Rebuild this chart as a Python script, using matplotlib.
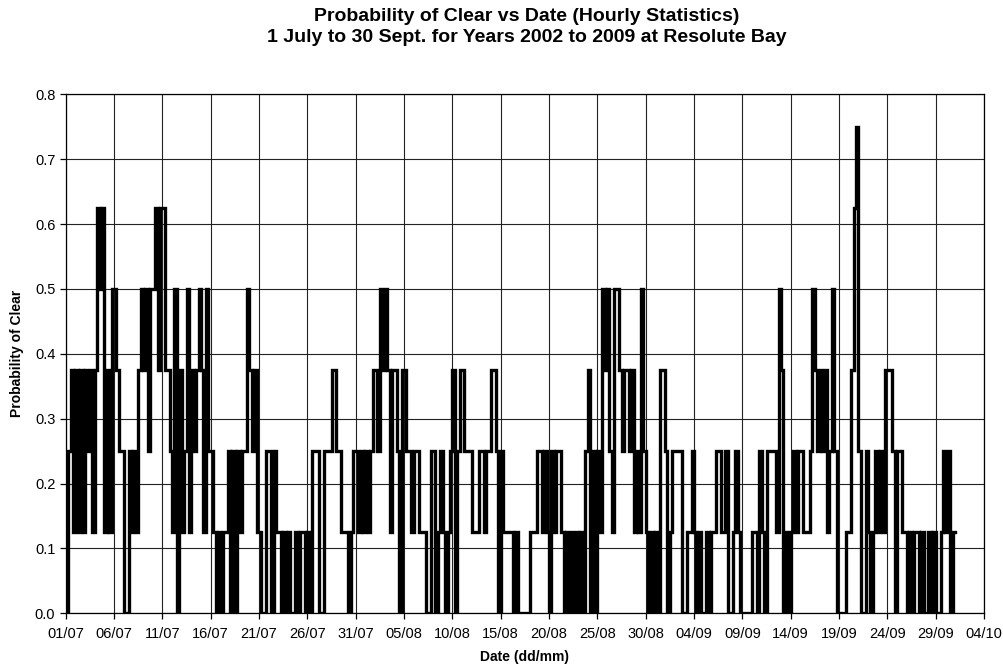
import datetime as dt
import numpy as np
import matplotlib
matplotlib.use("Agg")
import matplotlib.pyplot as plt

# Probability of clear, in eighths (8 years of data), 4 readings per day (6-hour steps)
july_eighths = [
    0,2,3,1, 3,1,3,1, 3,2,3,1, 3,5,4,5, 1,3,1,4, 4,3,2,2, 0,0,2,1, 2,1,3,4,
    3,4,2,4, 4,5,3,5, 5,3,3,2, 1,4,0,3, 1,2,4,1, 3,2,3,4, 3,1,4,2, 2,1,0,1,
    0,1,1,2, 0,2,0,2, 1,2,2,4, 3,2,3,1, 1,0,0,2, 2,0,2,1, 1,0,1,0, 1,0,0,1,
    0,1,1,0, 1,0,2,2, 2,0,0,2, 2,2,3,3, 2,2,1,1, 1,0,1,2, 2,1,2,1,
]
august_eighths = [
    2,1,2,3, 3,2,4,3, 4,3,1,3, 3,2,0,3, 3,2,2,1, 2,2,1,1, 1,0,0,2, 2,0,1,2,
    1,0,1,2, 3,0,2,3, 3,2,2,2, 1,1,1,2, 2,1,2,2, 3,3,2,0, 2,1,1,1, 1,0,1,0,
    0,0,0,0, 1,1,1,2, 2,1,2,1, 0,2,1,2, 2,1,0,1, 0,1,0,1, 0,1,0,2, 3,0,2,0,
    2,1,4,3, 4,2,1,4, 4,3,2,3, 3,2,3,1, 2,1,4,2, 1,0,1,0, 1,0,3,3,
]
september_eighths = [
    2,0,1,2, 2,2,2,0, 0,1,1,2, 1,0,1,0, 0,1,0,1, 1,2,2,1, 1,2,0,0, 1,2,1,0,
    0,0,0,0, 1,1,0,2, 1,0,2,2, 2,2,1,4, 3,0,1,0, 1,2,1,2, 2,1,1,1, 2,4,3,2,
    3,2,3,1, 2,4,2,0, 0,0,0,1, 1,3,5,6, 2,0,0,2, 1,0,1,2, 1,2,1,3, 3,3,2,0,
    2,2,1,1, 0,1,0,1, 1,0,1,0, 0,1,0,1, 0,0,1,2, 1,2,0,1,
]
steps_per_day = 4
start_date = dt.date(2009, 7, 1)
tick_days = list(range(0, 96, 5))
y_ticks = [0.0, 0.1, 0.2, 0.3, 0.4, 0.5, 0.6, 0.7, 0.8]

title_line1 = "Probability of Clear vs Date (Hourly Statistics)"
title_line2 = "1 July to 30 Sept. for Years 2002 to 2009 at Resolute Bay"
x_label = "Date (dd/mm)"
y_label = "Probability of Clear"

plt.rcParams['font.family'] = ['Liberation Sans', 'DejaVu Sans']

values = np.array(july_eighths + august_eighths + september_eighths) / 8.0
t = np.arange(len(values)) / steps_per_day
t = np.append(t, len(values) / steps_per_day)
values = np.append(values, values[-1])

fig = plt.figure(figsize=(10.04, 6.69), dpi=100)
ax = fig.add_axes([65.7 / 1004, 1 - 613.3 / 669, (984 - 65.7) / 1004, (613.3 - 94.3) / 669])

ax.step(t, values, where='post', color='black', lw=2.4, solid_joinstyle='miter', zorder=3)

ax.set_xlim(0, 95)
ax.set_ylim(0, 0.8)
ax.set_xticks(tick_days)
ax.set_xticklabels([(start_date + dt.timedelta(days=d)).strftime('%d/%m') for d in tick_days])
ax.set_yticks(y_ticks)
ax.set_yticklabels([f"{v:.1f}" for v in y_ticks])
ax.grid(True, color='#222222', lw=0.8, zorder=1)
ax.set_axisbelow(True)
for s in ax.spines.values():
    s.set_color('black')
    s.set_linewidth(0.9)
ax.tick_params(axis='both', direction='out', length=4, width=0.9, labelsize=10.5, colors='black')
ax.tick_params(axis='x', pad=6)

fig.text(527 / 1004, 1 - 21 / 669, title_line1, ha='center', va='baseline',
         fontsize=14, fontweight='bold')
fig.text(527 / 1004, 1 - 42 / 669, title_line2, ha='center', va='baseline',
         fontsize=14, fontweight='bold')
ax.set_xlabel(x_label, fontsize=10, fontweight='bold', labelpad=6)
ax.set_ylabel(y_label, fontsize=10, fontweight='bold', labelpad=8)

fig.savefig('out.png', dpi=100)
